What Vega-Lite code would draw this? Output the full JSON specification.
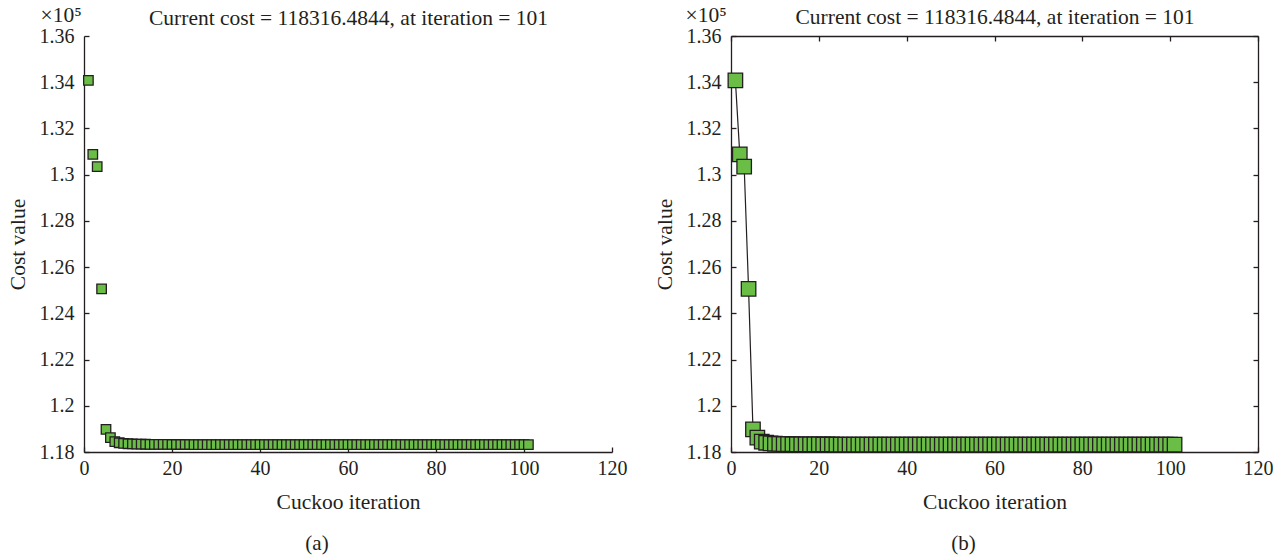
{
  "$schema": "https://vega.github.io/schema/vega-lite/v6.json",
  "background": "white",
  "padding": {"left": 7, "top": 4, "right": 12, "bottom": 2},
  "bounds": "flush",
  "spacing": 119,
  "config": {
    "view": {"stroke": null},
    "axis": {
      "grid": false,
      "labelFont": "Liberation Serif",
      "titleFont": "Liberation Serif",
      "labelFontSize": 20,
      "titleFontSize": 21.5,
      "titleFontWeight": "normal",
      "labelColor": "#231f20",
      "titleColor": "#231f20",
      "domainColor": "#231f20",
      "tickColor": "#231f20",
      "domainWidth": 1.3,
      "tickWidth": 1.3,
      "labelFlush": false,
      "labelOverlap": false
    },
    "title": {"font": "Liberation Serif", "fontSize": 21, "fontWeight": "normal", "color": "#231f20"}
  },
  "datasets": {
    "cost": [
      {"iteration": 1, "cost": 134080},
      {"iteration": 2, "cost": 130880},
      {"iteration": 3, "cost": 130350},
      {"iteration": 4, "cost": 125060},
      {"iteration": 5, "cost": 118980},
      {"iteration": 6, "cost": 118620},
      {"iteration": 7, "cost": 118450},
      {"iteration": 8, "cost": 118400},
      {"iteration": 9, "cost": 118372},
      {"iteration": 10, "cost": 118357},
      {"iteration": 11, "cost": 118348},
      {"iteration": 12, "cost": 118342},
      {"iteration": 13, "cost": 118338},
      {"iteration": 14, "cost": 118335},
      {"iteration": 15, "cost": 118332.5},
      {"iteration": 16, "cost": 118330.6},
      {"iteration": 17, "cost": 118329.1},
      {"iteration": 18, "cost": 118327.9},
      {"iteration": 19, "cost": 118326.8},
      {"iteration": 20, "cost": 118325.9},
      {"iteration": 21, "cost": 118325.1},
      {"iteration": 22, "cost": 118324.4},
      {"iteration": 23, "cost": 118323.8},
      {"iteration": 24, "cost": 118323.2},
      {"iteration": 25, "cost": 118322.7},
      {"iteration": 26, "cost": 118322.2},
      {"iteration": 27, "cost": 118321.8},
      {"iteration": 28, "cost": 118321.4},
      {"iteration": 29, "cost": 118321.0},
      {"iteration": 30, "cost": 118320.7},
      {"iteration": 31, "cost": 118320.4},
      {"iteration": 32, "cost": 118320.1},
      {"iteration": 33, "cost": 118319.8},
      {"iteration": 34, "cost": 118319.6},
      {"iteration": 35, "cost": 118319.4},
      {"iteration": 36, "cost": 118319.2},
      {"iteration": 37, "cost": 118319.0},
      {"iteration": 38, "cost": 118318.8},
      {"iteration": 39, "cost": 118318.7},
      {"iteration": 40, "cost": 118318.5},
      {"iteration": 41, "cost": 118318.4},
      {"iteration": 42, "cost": 118318.3},
      {"iteration": 43, "cost": 118318.1},
      {"iteration": 44, "cost": 118318.0},
      {"iteration": 45, "cost": 118317.9},
      {"iteration": 46, "cost": 118317.8},
      {"iteration": 47, "cost": 118317.7},
      {"iteration": 48, "cost": 118317.7},
      {"iteration": 49, "cost": 118317.6},
      {"iteration": 50, "cost": 118317.5},
      {"iteration": 51, "cost": 118317.4},
      {"iteration": 52, "cost": 118317.4},
      {"iteration": 53, "cost": 118317.3},
      {"iteration": 54, "cost": 118317.3},
      {"iteration": 55, "cost": 118317.2},
      {"iteration": 56, "cost": 118317.2},
      {"iteration": 57, "cost": 118317.1},
      {"iteration": 58, "cost": 118317.1},
      {"iteration": 59, "cost": 118317.0},
      {"iteration": 60, "cost": 118317.0},
      {"iteration": 61, "cost": 118316.95},
      {"iteration": 62, "cost": 118316.92},
      {"iteration": 63, "cost": 118316.88},
      {"iteration": 64, "cost": 118316.85},
      {"iteration": 65, "cost": 118316.82},
      {"iteration": 66, "cost": 118316.79},
      {"iteration": 67, "cost": 118316.77},
      {"iteration": 68, "cost": 118316.74},
      {"iteration": 69, "cost": 118316.72},
      {"iteration": 70, "cost": 118316.70},
      {"iteration": 71, "cost": 118316.68},
      {"iteration": 72, "cost": 118316.66},
      {"iteration": 73, "cost": 118316.65},
      {"iteration": 74, "cost": 118316.63},
      {"iteration": 75, "cost": 118316.62},
      {"iteration": 76, "cost": 118316.60},
      {"iteration": 77, "cost": 118316.59},
      {"iteration": 78, "cost": 118316.58},
      {"iteration": 79, "cost": 118316.57},
      {"iteration": 80, "cost": 118316.56},
      {"iteration": 81, "cost": 118316.55},
      {"iteration": 82, "cost": 118316.54},
      {"iteration": 83, "cost": 118316.54},
      {"iteration": 84, "cost": 118316.53},
      {"iteration": 85, "cost": 118316.52},
      {"iteration": 86, "cost": 118316.52},
      {"iteration": 87, "cost": 118316.51},
      {"iteration": 88, "cost": 118316.51},
      {"iteration": 89, "cost": 118316.50},
      {"iteration": 90, "cost": 118316.50},
      {"iteration": 91, "cost": 118316.50},
      {"iteration": 92, "cost": 118316.49},
      {"iteration": 93, "cost": 118316.49},
      {"iteration": 94, "cost": 118316.49},
      {"iteration": 95, "cost": 118316.49},
      {"iteration": 96, "cost": 118316.49},
      {"iteration": 97, "cost": 118316.48},
      {"iteration": 98, "cost": 118316.48},
      {"iteration": 99, "cost": 118316.48},
      {"iteration": 100, "cost": 118316.48},
      {"iteration": 101, "cost": 118316.4844}
    ]
  },
  "hconcat": [
    {
      "width": 528,
      "height": 416,
      "data": {"name": "cost"},
      "title": {"text": "(a)", "orient": "bottom", "frame": "bounds", "anchor": "middle", "offset": 20},
      "resolve": {"axis": {"x": "independent", "y": "independent"}},
      "layer": [
        {
          "mark": {"type": "point", "shape": "square", "filled": true, "fill": "#6abd45", "stroke": "#231f20", "strokeWidth": 1.3, "size": 90, "opacity": 1, "strokeOpacity": 1},
          "encoding": {
            "x": {
              "field": "iteration", "type": "quantitative",
              "scale": {"domain": [0, 120], "nice": false, "zero": false},
              "axis": {"orient": "bottom", "title": "Cuckoo iteration", "values": [0, 20, 40, 60, 80, 100, 120], "tickSize": -5, "labelPadding": 11, "titlePadding": 13}
            },
            "y": {
              "field": "cost", "type": "quantitative",
              "scale": {"domain": [118000, 136000], "nice": false, "zero": false},
              "axis": {"orient": "left", "title": "Cost value", "values": [118000, 120000, 122000, 124000, 126000, 128000, 130000, 132000, 134000, 136000], "labelExpr": "format(datum.value / 100000, '.2~f')", "tickSize": -5, "labelPadding": 15, "titlePadding": 10}
            }
          }
        },
        {
          "mark": {"type": "point", "opacity": 0},
          "encoding": {
            "x": {
              "field": "iteration", "type": "quantitative",
              "axis": {"orient": "top", "title": "Current cost = 118316.4844, at iteration = 101", "domain": false, "ticks": false, "labels": false, "titlePadding": 7}
            },
            "y": {
              "field": "cost", "type": "quantitative",
              "axis": {"orient": "right", "title": "×10⁵", "domain": false, "ticks": false, "labels": false, "titleAngle": 0, "titleX": -572, "titleY": -15, "titleAlign": "left", "titleBaseline": "alphabetic"}
            }
          }
        }
      ]
    },
    {
      "width": 527,
      "height": 416,
      "data": {"name": "cost"},
      "title": {"text": "(b)", "orient": "bottom", "frame": "bounds", "anchor": "middle", "offset": 20},
      "resolve": {"axis": {"x": "independent", "y": "independent"}},
      "layer": [
        {
          "mark": {"type": "line", "color": "#231f20", "strokeWidth": 1.2},
          "encoding": {
            "x": {
              "field": "iteration", "type": "quantitative",
              "scale": {"domain": [0, 120], "nice": false, "zero": false},
              "axis": {"orient": "top", "title": "Current cost = 118316.4844, at iteration = 101", "values": [0, 20, 40, 60, 80, 100, 120], "tickSize": -5, "labels": false, "titlePadding": 7}
            },
            "y": {
              "field": "cost", "type": "quantitative",
              "scale": {"domain": [118000, 136000], "nice": false, "zero": false},
              "axis": {"orient": "right", "title": "×10⁵", "values": [118000, 120000, 122000, 124000, 126000, 128000, 130000, 132000, 134000, 136000], "tickSize": -5, "labels": false, "titleAngle": 0, "titleX": -573, "titleY": -15, "titleAlign": "left", "titleBaseline": "alphabetic"}
            }
          }
        },
        {
          "mark": {"type": "point", "shape": "square", "filled": true, "fill": "#6abd45", "stroke": "#231f20", "strokeWidth": 1.3, "size": 210, "opacity": 1, "strokeOpacity": 1},
          "encoding": {
            "x": {
              "field": "iteration", "type": "quantitative",
              "axis": {"orient": "bottom", "title": "Cuckoo iteration", "values": [0, 20, 40, 60, 80, 100, 120], "tickSize": -5, "labelPadding": 11, "titlePadding": 13}
            },
            "y": {
              "field": "cost", "type": "quantitative",
              "axis": {"orient": "left", "title": "Cost value", "values": [118000, 120000, 122000, 124000, 126000, 128000, 130000, 132000, 134000, 136000], "labelExpr": "format(datum.value / 100000, '.2~f')", "tickSize": -5, "labelPadding": 15, "titlePadding": 10}
            }
          }
        }
      ]
    }
  ]
}
